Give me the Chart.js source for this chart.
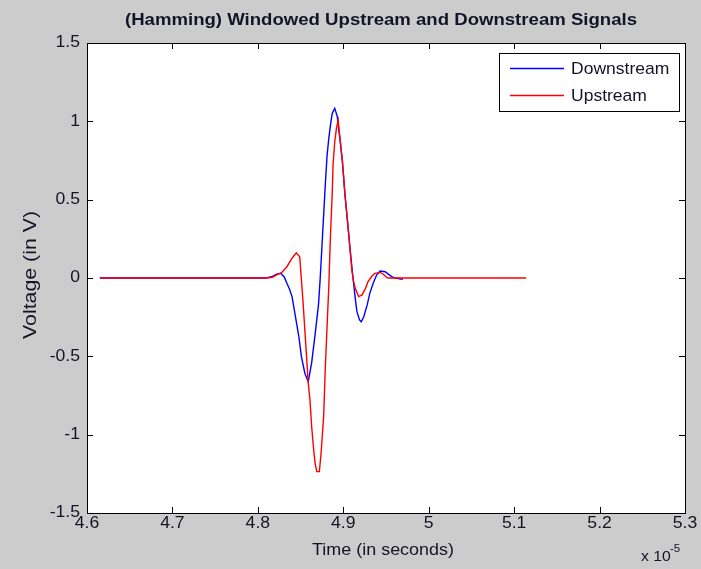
<!DOCTYPE html>
<html><head><meta charset="utf-8">
<script src="https://cdn.jsdelivr.net/npm/chart.js@4.4.1/dist/chart.umd.min.js"></script>
<style>html,body{margin:0;padding:0;background:#cccccc;overflow:hidden}</style>
</head><body>
<canvas id="c" width="701" height="569" style="display:block;width:701px;height:569px"></canvas>
<script>
const chartTitle = '(Hamming) Windowed Upstream and Downstream Signals';
const xLabel = 'Time (in seconds)';
const yLabel = 'Voltage (in V)';
const xTicks = [4.6, 4.7, 4.8, 4.9, 5.0, 5.1, 5.2, 5.3];
const yTicks = [-1.5, -1, -0.5, 0, 0.5, 1, 1.5];
const seriesNames = ['Downstream', 'Upstream'];

// time in units of 1e-5 s
const downT = [4.615, 4.810, 4.817, 4.822, 4.827, 4.831, 4.834, 4.837, 4.840, 4.844, 4.848, 4.851, 4.855, 4.859, 4.863, 4.867, 4.871, 4.873, 4.875, 4.877, 4.879, 4.881, 4.883, 4.885, 4.887, 4.890, 4.893, 4.894, 4.896, 4.899, 4.902, 4.905, 4.908, 4.911, 4.914, 4.916, 4.919, 4.921, 4.924, 4.928, 4.931, 4.935, 4.939, 4.943, 4.949, 4.955, 4.959, 4.967, 4.970];
const downV = [0, 0, 0.01, 0.025, 0.03, 0.005, -0.034, -0.07, -0.119, -0.247, -0.375, -0.502, -0.608, -0.662, -0.54, -0.36, -0.17, 0, 0.2, 0.4, 0.6, 0.78, 0.89, 0.976, 1.05, 1.083, 1.03, 0.976, 0.891, 0.742, 0.53, 0.359, 0.18, 0.019, -0.13, -0.215, -0.268, -0.279, -0.247, -0.172, -0.098, -0.034, 0.019, 0.045, 0.04, 0.015, 0.002, -0.006, -0.006];

const upT = [4.615, 4.810, 4.817, 4.822, 4.828, 4.834, 4.840, 4.845, 4.849, 4.851, 4.853, 4.855, 4.857, 4.859, 4.861, 4.863, 4.865, 4.867, 4.869, 4.872, 4.874, 4.877, 4.879, 4.881, 4.883, 4.885, 4.887, 4.888, 4.890, 4.892, 4.894, 4.896, 4.899, 4.902, 4.905, 4.908, 4.910, 4.912, 4.914, 4.918, 4.922, 4.926, 4.929, 4.933, 4.937, 4.943, 4.947, 4.951, 4.953, 5.114];
const upV = [0, 0, 0.005, 0.02, 0.035, 0.072, 0.126, 0.161, 0.136, -0.013, -0.161, -0.332, -0.502, -0.672, -0.779, -0.949, -1.077, -1.183, -1.236, -1.236, -1.119, -0.885, -0.566, -0.311, -0.06, 0.274, 0.53, 0.721, 0.87, 0.955, 1.008, 0.9, 0.742, 0.53, 0.359, 0.18, 0.05, -0.02, -0.066, -0.119, -0.108, -0.066, -0.023, 0.008, 0.03, 0.036, 0.024, 0.002, 0, 0];

const FONT = '"Liberation Sans", Arial, sans-serif';
const TXT = '#141428';

const toPts = (t, v) => t.map((x, i) => ({x: x, y: v[i]}));
const fmt = v => String(Number(v.toFixed(1)));

function stretchText(ctx, text, x, y, font, sx, align, rot) {
  ctx.save();
  ctx.font = font;
  ctx.textAlign = align;
  ctx.textBaseline = 'middle';
  ctx.translate(x, y);
  if (rot) ctx.rotate(rot);
  ctx.scale(sx, 1);
  ctx.fillText(text, 0, 0);
  ctx.restore();
}
function fitText(ctx, text, x, y, font, width, align, rot) {
  ctx.save(); ctx.font = font;
  const w = ctx.measureText(text).width;
  ctx.restore();
  stretchText(ctx, text, x, y, font, width / w, align, rot);
}

const matlabPlugin = {
  id: 'matlab',
  beforeDraw(chart) {
    const {ctx, chartArea: a} = chart;
    ctx.save();
    ctx.fillStyle = '#cccccc';
    ctx.fillRect(0, 0, chart.width, chart.height);
    ctx.fillStyle = '#ffffff';
    ctx.fillRect(a.left, a.top, a.right - a.left, a.bottom - a.top);
    ctx.restore();
  },
  afterDraw(chart) {
    const {ctx, chartArea: a} = chart;
    const xs = chart.scales.x, ys = chart.scales.y;
    ctx.save();
    ctx.strokeStyle = '#000';
    ctx.lineWidth = 1;
    const L = 6;
    ctx.beginPath();
    xTicks.forEach(v => {
      const px = Math.round(xs.getPixelForValue(v)) + 0.5;
      ctx.moveTo(px, a.bottom); ctx.lineTo(px, a.bottom - L);
      ctx.moveTo(px, a.top); ctx.lineTo(px, a.top + L);
    });
    yTicks.forEach(v => {
      const py = Math.round(ys.getPixelForValue(v)) + 0.5;
      ctx.moveTo(a.left, py); ctx.lineTo(a.left + L, py);
      ctx.moveTo(a.right, py); ctx.lineTo(a.right - L, py);
    });
    ctx.stroke();
    ctx.strokeRect(Math.round(a.left) + 0.5, Math.round(a.top) + 0.5, Math.round(a.right - a.left), Math.round(a.bottom - a.top));

    ctx.fillStyle = TXT;
    const tf = '16px ' + FONT;
    xTicks.forEach(v => stretchText(ctx, fmt(v), xs.getPixelForValue(v), a.bottom + 11, tf, 1.1, 'center'));
    yTicks.forEach(v => stretchText(ctx, fmt(v), a.left - 7, ys.getPixelForValue(v), tf, 1.1, 'right'));

    fitText(ctx, chartTitle, 381, 20, 'bold 17px ' + FONT, 512, 'center');
    fitText(ctx, xLabel, 383, 550, '17px ' + FONT, 142, 'center');
    fitText(ctx, yLabel, 31, (a.top + a.bottom) / 2 - 3, '18px ' + FONT, 128, 'center', -Math.PI / 2);
    stretchText(ctx, 'x 10', 641, 557, '15px ' + FONT, 1.05, 'left');
    stretchText(ctx, '-5', 670, 549, '11px ' + FONT, 1.05, 'left');

    const bx = 499.5, by = 53.5, bw = 180, bh = 58;
    ctx.fillStyle = '#ffffff';
    ctx.fillRect(bx, by, bw, bh);
    ctx.strokeStyle = '#000';
    ctx.lineWidth = 1;
    ctx.strokeRect(bx, by, bw, bh);
    const rows = [68.5, 95.5];
    seriesNames.forEach((name, i) => {
      const ds = chart.data.datasets.find(d => d.label === name);
      ctx.strokeStyle = ds.borderColor;
      ctx.lineWidth = 1.3;
      ctx.beginPath();
      ctx.moveTo(510, rows[i]); ctx.lineTo(564, rows[i]);
      ctx.stroke();
      ctx.fillStyle = TXT;
      stretchText(ctx, name, 571, rows[i] + 1, '17px ' + FONT, 1.03, 'left');
    });
    ctx.restore();
  }
};

new Chart(document.getElementById('c'), {
  type: 'line',
  data: {
    datasets: [
      {label: seriesNames[0], data: toPts(downT, downV), borderColor: '#0000ff', borderWidth: 1.4, pointRadius: 0, tension: 0, fill: false, order: 1},
      {label: seriesNames[1], data: toPts(upT, upV), borderColor: '#ff0000', borderWidth: 1.4, pointRadius: 0, tension: 0, fill: false, order: 0}
    ]
  },
  options: {
    responsive: false,
    animation: false,
    events: [],
    layout: {padding: {left: 0, top: 43, right: 16, bottom: 0}},
    plugins: {legend: {display: false}, title: {display: false}, tooltip: {enabled: false}},
    scales: {
      x: {
        type: 'linear', min: 4.6, max: 5.3,
        afterBuildTicks: s => { s.ticks = xTicks.map(v => ({value: v})); },
        afterFit: s => { s.height = 56; },
        grid: {display: false, drawTicks: false},
        border: {display: false},
        ticks: {display: false}
      },
      y: {
        type: 'linear', min: -1.5, max: 1.5,
        afterBuildTicks: s => { s.ticks = yTicks.map(v => ({value: v})); },
        afterFit: s => { s.width = 87; },
        grid: {display: false, drawTicks: false},
        border: {display: false},
        ticks: {display: false}
      }
    }
  },
  plugins: [matlabPlugin]
});
</script>
</body></html>
